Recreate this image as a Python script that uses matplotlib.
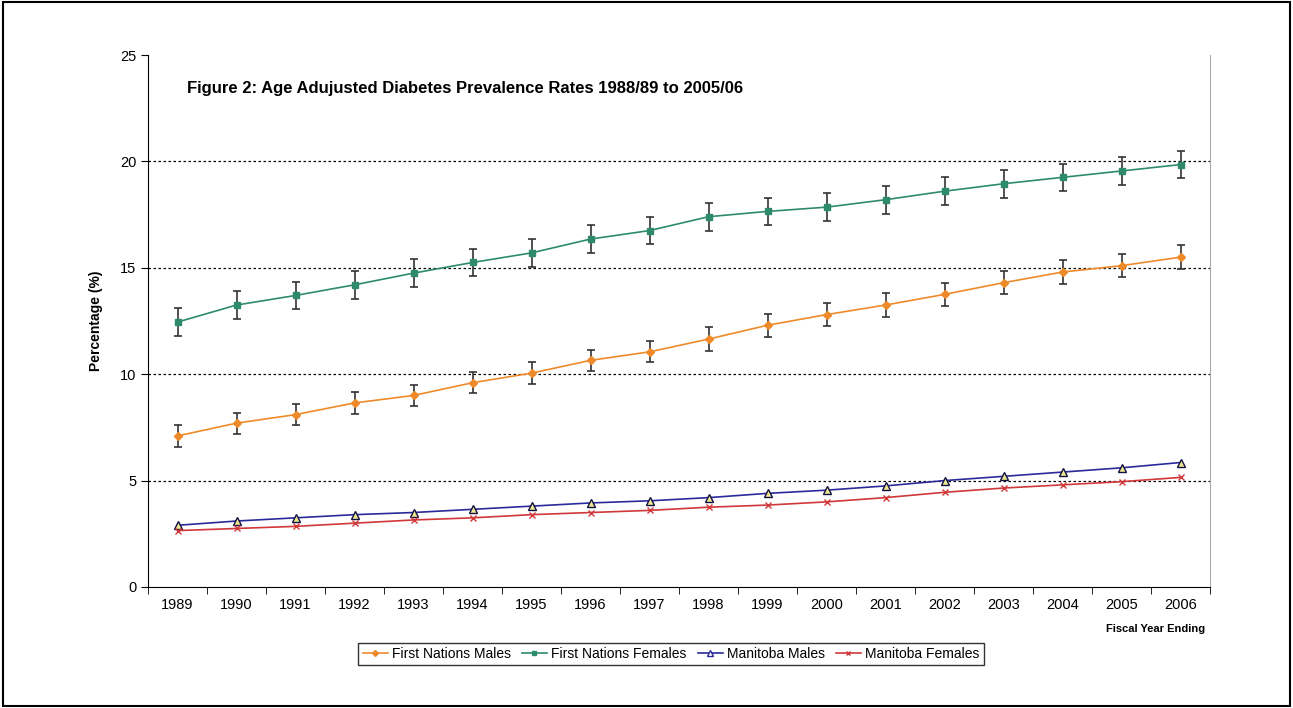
import matplotlib

matplotlib.use("Agg")
import matplotlib.pyplot as plt
import numpy as np
from matplotlib.lines import Line2D
from matplotlib.patches import Rectangle

plt.rcParams["font.family"] = ["Liberation Sans", "DejaVu Sans"]

years = [str(y) for y in range(1989, 2007)]
fn_males = [7.1, 7.7, 8.1, 8.65, 9.0, 9.6, 10.05, 10.65, 11.05, 11.65,
            12.3, 12.8, 13.25, 13.75, 14.3, 14.8, 15.1, 15.5]
fn_males_err = [0.5, 0.5, 0.5, 0.5, 0.5, 0.5, 0.5, 0.5, 0.5, 0.55,
                0.55, 0.55, 0.55, 0.55, 0.55, 0.55, 0.55, 0.55]
fn_females = [12.45, 13.25, 13.7, 14.2, 14.75, 15.25, 15.7, 16.35, 16.75, 17.4,
              17.65, 17.85, 18.2, 18.6, 18.95, 19.25, 19.55, 19.85]
fn_females_err = [0.65] * 18
mb_males = [2.9, 3.1, 3.25, 3.4, 3.5, 3.65, 3.8, 3.95, 4.05, 4.2,
            4.4, 4.55, 4.75, 5.0, 5.2, 5.4, 5.6, 5.85]
mb_females = [2.65, 2.75, 2.85, 3.0, 3.15, 3.25, 3.4, 3.5, 3.6, 3.75,
              3.85, 4.0, 4.2, 4.45, 4.65, 4.8, 4.95, 5.15]

x = np.arange(len(years))

ORANGE = "#ee8a2a"
GREEN = "#2e8b6a"
BLUE = "#2a2a9a"
RED = "#d0383a"

fig = plt.figure(figsize=(12.93, 7.08), dpi=100)
fig.patches.append(Rectangle((0.002, 0.003), 0.996, 0.994, transform=fig.transFigure,
                             fill=False, edgecolor="black", linewidth=1.5))
ax = fig.add_axes([148 / 1293, 1 - 587 / 708, (1210 - 148) / 1293, (587 - 55) / 708])

err_kw = dict(ecolor="#333333", elinewidth=1.2, capsize=3, capthick=1.2)
ax.errorbar(x, fn_males, yerr=fn_males_err, color=ORANGE, marker="D", markersize=4,
            linewidth=1.2, zorder=3, **err_kw)
ax.errorbar(x, fn_females, yerr=fn_females_err, color=GREEN, marker="s", markersize=5,
            linewidth=1.2, zorder=3, **err_kw)
ax.plot(x, mb_males, color=BLUE, marker="^", markersize=6, markerfacecolor="#f0e890",
        markeredgecolor="#111144", linewidth=1.2, zorder=3)
ax.plot(x, mb_females, color=RED, marker="x", markersize=4, linewidth=1.2, zorder=3)

ax.set_xlim(-0.5, len(years) - 0.5)
ax.set_ylim(0, 25)
ax.set_yticks([0, 5, 10, 15, 20, 25])
for yv in [5, 10, 15, 20]:
    ax.axhline(yv, color="black", linestyle=(0, (2, 2)), linewidth=0.9, zorder=1)

ax.set_xticks(x)
ax.set_xticklabels(years)
ax.set_xticks(np.arange(-0.5, len(years)), minor=True)
ax.tick_params(axis="x", which="major", length=0, labelsize=10.5, pad=8)
ax.tick_params(axis="x", which="minor", length=5, direction="out")
ax.tick_params(axis="y", labelsize=10.5, length=5)

ax.spines["top"].set_visible(False)
ax.spines["right"].set_color("#aaaaaa")

ax.set_ylabel("Percentage (%)", fontsize=10, fontweight="bold", labelpad=12)
ax.text(0.037, 0.937, "Figure 2: Age Adujusted Diabetes Prevalence Rates 1988/89 to 2005/06",
        transform=ax.transAxes, fontsize=12, fontweight="bold", va="center")
fig.text(1205 / 1293, 1 - 629 / 708, "Fiscal Year Ending", fontsize=8, fontweight="bold",
         ha="right", va="center")

handles = [
    Line2D([], [], color=ORANGE, marker="D", markersize=3, linewidth=1.2),
    Line2D([], [], color=GREEN, marker="s", markersize=3.5, linewidth=1.2),
    Line2D([], [], color=BLUE, marker="^", markersize=4, markerfacecolor="white",
           linewidth=1.2),
    Line2D([], [], color=RED, marker="x", markersize=3.5, linewidth=1.2),
]
labels = ["First Nations Males", "First Nations Females", "Manitoba Males", "Manitoba Females"]
leg = fig.legend(handles, labels, loc="center", bbox_to_anchor=(671 / 1293, 1 - 654 / 708),
                 ncol=4, fontsize=10, frameon=True, fancybox=False, edgecolor="black",
                 handlelength=1.8, handletextpad=0.3, columnspacing=0.8, borderpad=0.3)
leg.get_frame().set_linewidth(1.0)

fig.savefig("out.png", dpi=100)
